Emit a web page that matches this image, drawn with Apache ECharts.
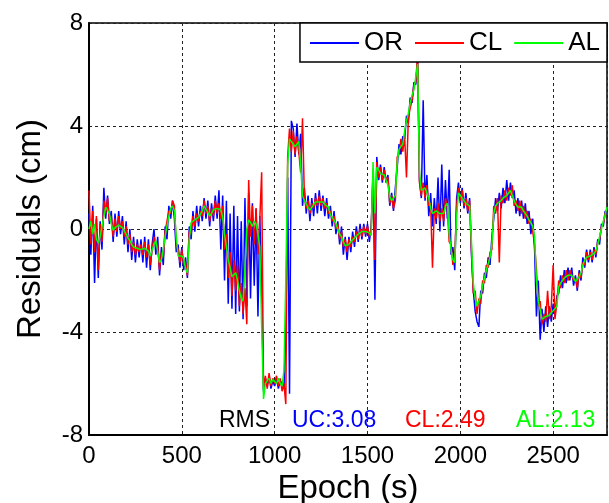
<!DOCTYPE html>
<html>
<head>
<meta charset="utf-8">
<script src="https://cdn.jsdelivr.net/npm/echarts@6/dist/echarts.min.js"></script>
<style>html,body{margin:0;padding:0;background:#fff}#c{width:609px;height:503px}</style>
</head>
<body>
<div id="c"></div>
<script>
// Epochs (s): sampled every 10 s from 0 to 2790
const epochStart = 0, epochStep = 10;
const xTicks = [0, 500, 1000, 1500, 2000, 2500];
const yTicks = [-8, -4, 0, 4, 8];
const seriesNames = ['OR', 'CL', 'AL'];
const rmsLabels = ['RMS', 'UC:3.08', 'CL:2.49', 'AL:2.13'];

const residualOR = [
 0.6,-1.0,0.9,-2.1,0.4,-1.9,0.3,-0.8,1.6,0.4,
 1.3,0.2,0.7,-0.5,0.6,-0.3,0.7,-0.2,0.5,-0.6,
 0.3,-0.9,0.0,-1.2,-0.3,-1.3,-0.4,-1.1,-0.4,-1.3,
 -0.3,-1.5,-0.4,-1.6,-0.6,0.0,-1.0,-0.3,-1.8,-0.7,
 -1.4,0.1,-0.4,0.9,0.4,1.1,0.4,-0.9,-0.6,-1.5,
 -0.7,-1.6,-1.1,-1.9,0.1,-0.4,0.7,-0.1,0.9,0.1,
 0.9,0.3,1.2,0.4,1.1,0.1,1.0,0.3,1.3,0.4,
 1.5,-0.8,1.3,-2.0,1.1,-2.9,0.6,-3.1,0.9,-3.3,
 0.5,-3.2,0.3,-3.5,1.2,-3.0,1.4,-2.7,1.0,-2.2,
 0.8,-3.4,0.5,-2.5,-6.3,-5.8,-6.1,-5.7,-6.2,-5.9,
 -6.1,-5.8,-6.2,-5.9,-6.0,-6.2,-4.0,2.0,-6.4,4.2,
 3.9,2.8,4.1,2.9,3.7,0.9,1.6,0.6,1.3,0.3,
 1.2,0.5,1.4,0.6,1.5,0.7,1.3,0.5,1.2,0.4,
 0.9,0.1,0.7,-0.2,0.3,-0.6,0.1,-1.0,-0.3,-1.2,
 -0.3,-0.9,-0.1,-0.7,0.1,-0.5,0.2,-0.4,0.2,-0.3,
 0.2,-0.5,0.1,2.1,-2.75,2.8,1.9,2.5,1.8,2.4,
 1.8,2.1,0.9,1.4,0.7,1.6,2.4,3.3,2.9,3.6,
 3.5,4.4,4.1,5.1,4.9,5.7,5.6,6.6,1.9,1.2,
 5.0,1.1,2.1,0.5,1.4,0.1,1.2,0.2,2.0,-0.1,
 2.5,0.1,1.9,0.4,2.3,-1.0,-0.7,-1.6,1.2,1.8,
 1.0,1.6,0.8,1.4,0.6,1.2,-1.0,-2.4,-3.2,-3.6,
 -3.8,-2.4,-2.5,-1.7,-1.9,-1.1,-1.4,-0.3,0.4,1.2,
 0.7,1.4,0.8,1.6,1.0,1.9,1.1,1.8,1.2,1.5,
 0.6,1.2,0.5,1.1,0.4,1.0,0.2,0.7,-0.2,0.4,
 -0.8,-3.4,-2.0,-4.3,-3.1,-4.0,-3.0,-3.8,-3.0,-3.6,
 -2.9,-3.4,-2.6,-2.5,-1.8,-2.3,-1.6,-2.1,-1.5,-2.0,
 -1.5,-2.2,-1.8,-2.4,-1.6,-2.0,-1.1,-1.5,-0.8,-1.3,
 -0.8,-1.3,-0.7,-1.1,-0.4,-0.6,0.2,0.1,0.7,0.6
];
const residualCL = [
 1.5,-0.6,0.7,-0.9,0.5,-1.6,0.2,-0.5,1.1,0.6,
 1.2,0.3,0.5,-0.3,0.4,-0.1,0.5,0.0,0.3,-0.3,
 0.1,-0.6,-0.2,-0.9,-0.5,-1.0,-0.6,-0.9,-0.6,-1.0,
 -0.5,-1.1,-0.6,-1.4,-0.8,-0.3,-0.7,-0.6,-1.6,-0.9,
 -1.1,-0.1,-0.1,0.7,0.6,1.1,0.9,-0.6,-0.8,-1.3,
 -0.8,-1.4,-1.3,-1.8,-0.1,-0.2,0.5,0.1,0.6,0.3,
 0.7,0.5,1.1,0.6,0.9,0.3,0.8,0.5,1.1,0.6,
 1.0,0.4,0.9,-0.8,-0.2,-1.9,-0.9,-2.6,-1.2,-2.4,
 -1.4,-3.0,-2.1,-3.3,-2.3,-3.7,1.9,-0.3,0.9,-0.6,
 0.8,-1.0,0.4,2.2,-6.2,-5.7,-6.2,-5.6,-6.1,-5.8,
 -6.0,-5.7,-6.1,-5.8,-6.3,-6.0,-6.8,2.8,3.9,3.0,
 3.8,2.9,3.6,3.0,2.2,4.3,1.3,0.8,1.1,0.6,
 1.0,0.8,1.2,0.9,1.3,0.9,1.2,0.8,1.0,0.6,
 0.7,0.3,0.5,0.0,0.2,-0.4,-0.1,-0.7,-0.4,-0.9,
 -0.4,-0.7,-0.3,-0.5,-0.1,-0.4,0.0,-0.3,0.1,-0.2,
 0.1,-0.3,0.0,2.3,-1.2,2.6,2.0,2.4,1.9,2.3,
 1.9,2.0,1.0,1.3,0.8,1.1,2.8,2.9,3.5,3.0,
 3.6,2.0,4.3,4.7,5.0,5.6,5.7,6.8,1.8,1.3,
 1.8,1.2,1.7,0.9,1.0,-1.5,0.8,0.4,1.0,0.3,
 0.8,0.3,1.2,0.8,-0.5,-0.6,-1.4,-1.1,0.9,1.6,
 1.1,1.5,0.9,1.2,0.7,1.1,-0.8,-2.5,-2.4,-3.3,
 -2.7,-2.9,-2.0,-2.1,-1.4,-1.5,-0.9,-0.8,0.9,0.6,
 1.2,-1.3,1.3,1.0,1.5,1.1,1.6,1.3,1.7,0.9,
 1.1,0.7,1.1,0.6,0.9,0.4,0.7,0.2,0.4,-0.1,
 -0.6,-1.6,-3.0,-2.8,-3.7,-3.3,-3.6,-2.4,-3.5,-3.0,
 -1.4,-3.5,-2.8,-2.0,-2.3,-1.8,-2.1,-1.6,-2.0,-1.6,
 -1.6,-2.0,-1.9,-2.3,-1.7,-1.9,-1.3,-1.4,-0.9,-1.2,
 -0.9,-1.2,-0.8,-1.0,-0.5,-0.4,0.1,0.2,0.6,0.8
];
const residualAL = [
 0.0,0.3,-0.2,0.2,-0.4,-0.55,-0.3,0.1,0.5,0.85,
 0.9,0.6,0.2,-0.05,0.05,0.1,0.15,0.1,0.05,0.0,
 -0.2,-0.35,-0.45,-0.6,-0.7,-0.75,-0.75,-0.7,-0.8,-0.75,
 -0.75,-0.8,-0.85,-1.05,-1.1,-0.6,-0.45,-0.9,-1.3,-1.2,
 -0.8,-0.3,0.1,0.5,0.8,0.9,0.7,-0.3,-1.05,-1.1,
 -1.05,-1.15,-1.55,-1.7,-0.4,0.25,0.3,0.35,0.4,0.45,
 0.5,0.7,0.9,0.85,0.65,0.5,0.6,0.75,0.8,0.8,
 0.8,0.75,0.45,-0.2,-0.7,-1.2,-1.5,-1.85,-1.9,-1.7,
 -2.0,-2.4,-2.7,-2.8,-1.5,0.0,0.35,0.25,0.1,0.3,
 0.2,-0.2,-0.7,-3.8,-6.6,-6.0,-5.9,-5.8,-6.0,-5.85,
 -5.9,-6.0,-5.8,-6.0,-6.1,-5.5,-2.0,2.5,3.5,3.55,
 3.3,3.2,3.15,3.4,2.5,1.3,1.1,1.05,0.85,0.73,
 0.8,0.95,1.05,1.0,1.05,1.1,1.05,0.95,0.9,0.85,
 0.55,0.45,0.35,0.2,0.0,-0.2,-0.3,-0.5,-0.65,-0.7,
 -0.6,-0.5,-0.45,-0.35,-0.3,-0.2,-0.15,-0.1,-0.05,-0.1,
 -0.05,-0.15,-0.25,2.6,0.6,2.4,2.3,2.15,2.2,2.1,
 2.15,1.7,1.25,1.1,1.05,1.3,2.6,3.1,3.2,3.3,
 3.8,4.2,4.5,4.9,5.2,5.4,5.9,6.4,2.2,1.5,
 1.5,1.6,1.4,1.2,0.8,0.6,0.55,0.7,0.7,0.6,
 0.55,0.6,0.9,1.0,-0.2,-0.8,-1.2,-1.3,0.5,1.4,
 1.3,1.2,1.1,1.0,0.95,0.9,-0.5,-2.1,-2.7,-3.0,
 -2.95,-2.6,-2.2,-1.9,-1.6,-1.35,-1.1,-0.6,0.6,0.9,
 1.0,1.05,1.1,1.2,1.25,1.3,1.4,1.5,1.45,1.1,
 0.95,0.85,0.9,0.85,0.7,0.65,0.5,0.35,0.25,0.1,
 -0.3,-2.0,-2.8,-3.15,-3.5,-3.55,-3.4,-3.4,-3.35,-3.25,
 -3.2,-3.1,-3.0,-2.25,-2.1,-2.0,-1.9,-1.85,-1.8,-1.75,
 -1.8,-1.9,-2.05,-2.1,-1.85,-1.7,-1.4,-1.2,-1.1,-1.05,
 -1.05,-1.0,-0.95,-0.85,-0.6,-0.3,0.0,0.3,0.55,0.85
];

const FONT = "'Liberation Sans', Arial, Helvetica, sans-serif";
const colors = ['#0000ff', '#ff0000', '#00ff00'];
const toPairs = arr => arr.map((v, i) => [epochStart + i * epochStep, v]);

const chart = echarts.init(document.getElementById('c'), null, {renderer: 'canvas'});
const allSeries = [residualOR, residualCL, residualAL].map((arr, k) => ({
  name: seriesNames[k],
  type: 'line',
  data: toPairs(arr),
  symbol: 'none',
  showSymbol: false,
  lineStyle: {color: colors[k], width: 1.5},
  itemStyle: {color: colors[k]},
  z: 2 + k,
  animation: false
}));

chart.setOption({
  animation: false,
  backgroundColor: '#fff',
  grid: {left: 89, right: 2, top: 23, bottom: 68, show: true, borderColor: '#000', borderWidth: 1.5,
         backgroundColor: 'transparent', containLabel: false, outerBoundsMode: 'none'},
  legend: {
    data: seriesNames,
    right: 2, top: 23,
    orient: 'horizontal',
    icon: 'rect',
    itemWidth: 49, itemHeight: 2, itemGap: 12,
    padding: [7, 7, 6, 10],
    backgroundColor: '#fff',
    borderColor: '#000', borderWidth: 1.5, borderRadius: 0,
    textStyle: {fontFamily: FONT, fontSize: 26, color: '#000', padding: [0, 0, 0, 0]},
    z: 10
  },
  xAxis: {
    type: 'value', min: xTicks[0], max: 2790, interval: 500,
    name: 'Epoch (s)', nameLocation: 'middle', nameGap: 31,
    nameTextStyle: {fontFamily: FONT, fontSize: 33, color: '#000'},
    axisLine: {show: true, onZero: false, lineStyle: {color: '#000', width: 2}},
    axisTick: {show: false},
    axisLabel: {fontFamily: FONT, fontSize: 24, color: '#000', margin: 9, showMaxLabel: false,
                formatter: v => String(v)},
    splitLine: {show: true, lineStyle: {color: '#222', width: 1, type: [3, 3]}}
  },
  yAxis: {
    type: 'value', min: yTicks[0], max: yTicks[yTicks.length - 1], interval: 4,
    name: 'Residuals (cm)', nameLocation: 'middle', nameGap: 42,
    nameTextStyle: {fontFamily: FONT, fontSize: 33, color: '#000'},
    axisLine: {show: true, onZero: false, lineStyle: {color: '#000', width: 2}},
    axisTick: {show: false},
    axisLabel: {fontFamily: FONT, fontSize: 24, color: '#000', margin: 6, formatter: v => String(v)},
    splitLine: {show: true, lineStyle: {color: '#222', width: 1, type: [3, 3]}}
  },
  graphic: [
    {type: 'text', left: 219, top: 409, z: 20, style: {text: rmsLabels[0], fill: '#000', font: '23px ' + FONT}},
    {type: 'text', left: 292, top: 409, z: 20, style: {text: rmsLabels[1], fill: '#0000ff', font: '23px ' + FONT}},
    {type: 'text', left: 405, top: 409, z: 20, style: {text: rmsLabels[2], fill: '#ff0000', font: '23px ' + FONT}},
    {type: 'text', left: 516, top: 409, z: 20, style: {text: rmsLabels[3], fill: '#00ff00', font: '23px ' + FONT}}
  ],
  series: allSeries
});
</script>
</body>
</html>
